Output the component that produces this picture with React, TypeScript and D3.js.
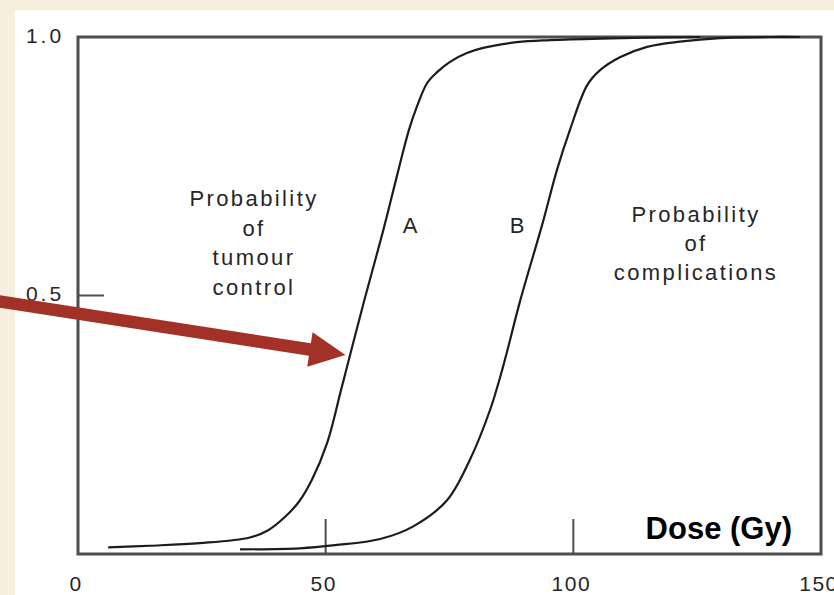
import React from "react";
import * as d3 from "d3";

// Dose (Gy) and probability for curve A (tumour control)
const tumourDose = [6.1, 14.5, 24.6, 34.7, 38.4, 41.6, 44.6, 47.2, 50.3, 53.1, 55.2, 57.8, 61.6, 64.7, 66.8, 68.4, 70.5, 72.5, 75.1, 78.5, 81.8, 88.6, 95.3, 105.4, 125.6];
const tumourProb = [0.013, 0.016, 0.021, 0.032, 0.046, 0.070, 0.101, 0.143, 0.215, 0.317, 0.395, 0.491, 0.625, 0.743, 0.820, 0.865, 0.911, 0.932, 0.952, 0.969, 0.979, 0.990, 0.994, 0.997, 1.0];

// Dose (Gy) and probability for curve B (complications)
const compDose = [32.7, 44.8, 51.9, 61.0, 67.6, 74.5, 79.1, 83.2, 85.8, 89.3, 93.8, 96.7, 99.3, 102.8, 105.4, 109.4, 114.9, 121.5, 129.6, 139.7, 145.8];
const compProb = [0.009, 0.011, 0.017, 0.029, 0.053, 0.104, 0.182, 0.279, 0.362, 0.491, 0.640, 0.743, 0.820, 0.907, 0.936, 0.961, 0.981, 0.991, 0.998, 1.0, 1.0];

const xTicks = [0, 50, 100, 150];
const xTickLabels = ["0", "50", "100", "150"];
const xTickMarks = [50, 100];
const yTicks = [0.5, 1.0];
const yTickLabels = ["0.5", "1.0"];
const yTickMarks = [0.5];

const arrowTarget = { dose: 54.0, prob: 0.385 };

const W = 834;
const H = 595;
const FONT = "'Liberation Sans', Arial, Helvetica, sans-serif";

export default function App() {
  const x = d3.scaleLinear().domain([0, 150]).range([78, 821]);
  const y = d3.scaleLinear().domain([0, 1]).range([554, 37]);

  const line = d3
    .line<[number, number]>()
    .x((d) => x(d[0]))
    .y((d) => y(d[1]))
    .curve(d3.curveCatmullRom.alpha(0.5));

  const pathA = line(tumourDose.map((d, i) => [d, tumourProb[i]] as [number, number])) || "";
  const pathB = line(compDose.map((d, i) => [d, compProb[i]] as [number, number])) || "";

  // arrow geometry
  const tipX = x(arrowTarget.dose);
  const tipY = y(arrowTarget.prob);
  const startX = 0;
  const startY = 301.5;
  const ang = Math.atan2(tipY - startY, tipX - startX);
  const headLen = 36;
  const headHalf = 17.5;
  const shaftHalf = 6.3;
  const bx = tipX - headLen * Math.cos(ang);
  const by = tipY - headLen * Math.sin(ang);
  const nx = -Math.sin(ang);
  const ny = Math.cos(ang);
  const sx = startX - 10 * Math.cos(ang);
  const sy = startY - 10 * Math.sin(ang);
  const arrowPts = [
    [sx + nx * shaftHalf, sy + ny * shaftHalf],
    [bx + nx * shaftHalf, by + ny * shaftHalf],
    [bx + nx * headHalf, by + ny * headHalf],
    [tipX, tipY],
    [bx - nx * headHalf, by - ny * headHalf],
    [bx - nx * shaftHalf, by - ny * shaftHalf],
    [sx - nx * shaftHalf, sy - ny * shaftHalf],
  ]
    .map((p) => p.join(","))
    .join(" ");

  const textStyle = { fontFamily: FONT, fontSize: 22, fill: "#262626", letterSpacing: 2.4 } as const;

  return (
    <svg
      width={W}
      height={H}
      style={{ position: "absolute", left: 0, top: 0, display: "block" }}
    >
      <rect x={0} y={0} width={W} height={H} fill="#f8eedd" />
      <rect x={15} y={10} width={W - 15} height={H - 10} fill="#ffffff" />

      {/* axes box */}
      <rect
        x={x(0)}
        y={y(1)}
        width={x(150) - x(0)}
        height={y(0) - y(1)}
        fill="none"
        stroke="#4d4d4d"
        strokeWidth={3}
      />

      {/* tick marks */}
      {xTickMarks.map((t) => (
        <line key={"xt" + t} x1={x(t)} x2={x(t)} y1={y(0)} y2={y(0) - 35} stroke="#4d4d4d" strokeWidth={2} />
      ))}
      {yTickMarks.map((t) => (
        <line key={"yt" + t} x1={x(0)} x2={x(0) + 26} y1={y(t)} y2={y(t)} stroke="#4d4d4d" strokeWidth={2} />
      ))}

      {/* tick labels */}
      {xTicks.map((t, i) => (
        <text key={"xl" + t} x={x(t) - 2} y={591} textAnchor="middle" style={{ ...textStyle, fontSize: 21, letterSpacing: 1.5 }}>
          {xTickLabels[i]}
        </text>
      ))}
      {yTicks.map((t, i) => (
        <text key={"yl" + t} x={45} y={y(t) + 5.5} textAnchor="middle" style={{ ...textStyle, fontSize: 21, letterSpacing: 3 }}>
          {yTickLabels[i]}
        </text>
      ))}

      {/* curves */}
      <path d={pathA} fill="none" stroke="#1c1c1c" strokeWidth={2.2} />
      <path d={pathB} fill="none" stroke="#1c1c1c" strokeWidth={2.2} />

      {/* labels */}
      <text x={410} y={233} textAnchor="middle" style={{ ...textStyle, letterSpacing: 0 }}>A</text>
      <text x={517} y={233} textAnchor="middle" style={{ ...textStyle, letterSpacing: 0 }}>B</text>

      {["Probability", "of", "tumour", "control"].map((s, i) => (
        <text key={s} x={254} y={206 + i * 29.5} textAnchor="middle" style={textStyle}>
          {s}
        </text>
      ))}
      {["Probability", "of", "complications"].map((s, i) => (
        <text key={s} x={696} y={222 + i * 29} textAnchor="middle" style={textStyle}>
          {s}
        </text>
      ))}

      <text
        x={792}
        y={539}
        textAnchor="end"
        style={{ fontFamily: FONT, fontSize: 31, fontWeight: 700, fill: "#000" }}
      >
        Dose (Gy)
      </text>

      {/* arrow */}
      <polygon points={arrowPts} fill="#a23227" />
    </svg>
  );
}
